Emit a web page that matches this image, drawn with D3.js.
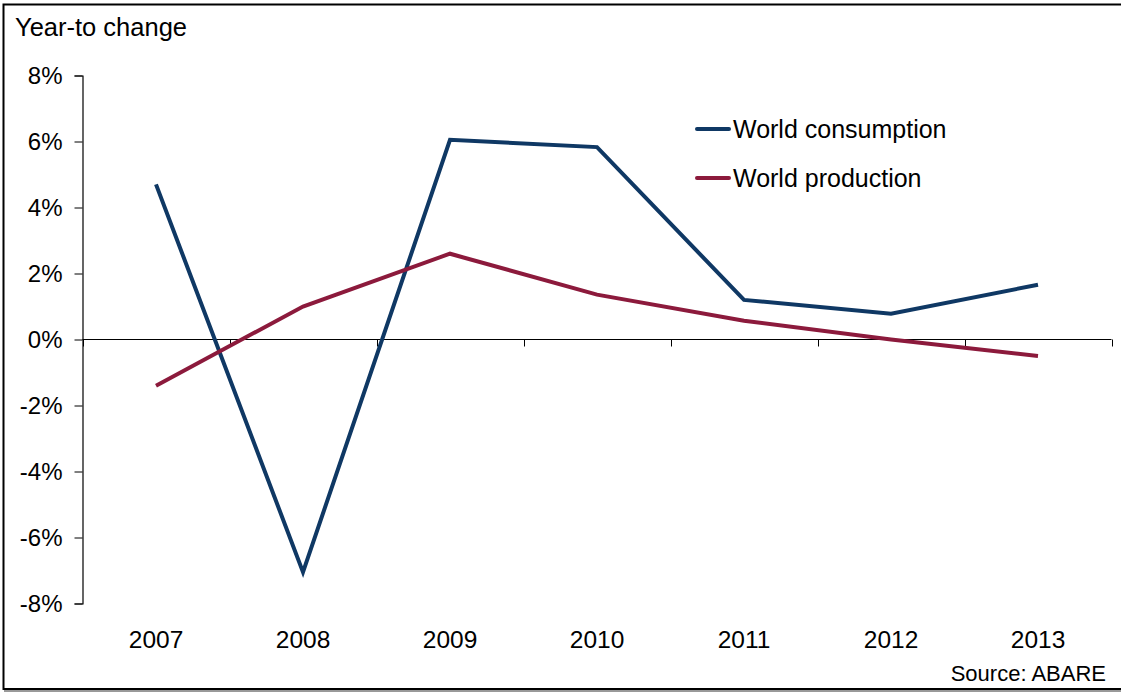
<!DOCTYPE html>
<html><head><meta charset="utf-8">
<script src="https://cdn.jsdelivr.net/npm/d3@7"></script>
<style>html,body{margin:0;padding:0;background:#fff;}svg{display:block;font-family:"Liberation Sans",Arial,sans-serif;}</style>
</head><body>
<svg id="c" width="1121" height="692"></svg>
<script>
const years = ["2007","2008","2009","2010","2011","2012","2013"];
const consumption = [4.7, -7.05, 6.05, 5.83, 1.2, 0.78, 1.66];
const production = [-1.4, 1.0, 2.6, 1.36, 0.57, 0.0, -0.5];
const yTicks = [8, 6, 4, 2, 0, -2, -4, -6, -8];
const seriesNames = ["World consumption", "World production"];
const colors = ["#0f3864", "#8c1a3c"];

const svg = d3.select("#c");
const FONT = "Liberation Sans, Arial, sans-serif";
// frame
svg.append("rect").attr("x", 4).attr("y", 690).attr("width", 1117).attr("height", 2).attr("fill", "#999");
svg.append("rect").attr("x", 3.5).attr("y", 4.5).attr("width", 1120).attr("height", 684.5)
  .attr("fill", "none").attr("stroke", "#000").attr("stroke-width", 2);

const x = d3.scaleBand().domain(years).range([82.5, 1111.5]);
const y = d3.scaleLinear().domain([-8, 8]).range([603.5, 75.5]);

// y axis
const yAxis = d3.axisLeft(y).tickValues(yTicks).tickSize(8).tickPadding(12).tickFormat(d => d + "%");
const gy = svg.append("g").attr("transform", "translate(82.5,0)").call(yAxis);
gy.select(".domain").attr("stroke", "#000").attr("stroke-width", 1.2);
gy.selectAll(".tick line").attr("stroke", "#000");
gy.selectAll(".tick text").attr("font-size", 24).attr("fill", "#000").attr("font-family", FONT);

// x axis at zero
const xAxis = d3.axisBottom(x).tickSize(0).tickFormat(d => d);
const gx = svg.append("g").attr("transform", `translate(0,${y(0)})`).call(xAxis);
gx.select(".domain").remove();
gx.append("line").attr("x1", 82.5).attr("x2", 1111.5).attr("y1", 0).attr("y2", 0).attr("stroke", "#000").attr("stroke-width", 1);
gx.selectAll(".tick text").attr("font-size", 24.5).attr("fill", "#000")
  .attr("font-family", FONT)
  .attr("y", 0).attr("dy", 0)
  .attr("transform", `translate(0,${648 - y(0)})`);
// boundary ticks
const bounds = years.map(d => x(d)).concat([x(years[years.length - 1]) + x.bandwidth()]);
gx.selectAll(".bt").data(bounds).enter().append("line").attr("class", "bt")
  .attr("x1", d => Math.round(d) + 0.5).attr("x2", d => Math.round(d) + 0.5)
  .attr("y1", 0).attr("y2", 7).attr("stroke", "#000");

// lines
const line = d3.line().x((d, i) => x(years[i]) + x.bandwidth() / 2).y(d => y(d));
[consumption, production].forEach((s, i) => {
  svg.append("path").datum(s).attr("d", line).attr("fill", "none")
    .attr("stroke", colors[i]).attr("stroke-width", 4).attr("stroke-linejoin", "miter").attr("stroke-linecap", "butt");
});

// legend
seriesNames.forEach((n, i) => {
  const ly = 129 + i * 49;
  svg.append("line").attr("x1", 697).attr("x2", 729).attr("y1", ly).attr("y2", ly)
    .attr("stroke", colors[i]).attr("stroke-width", 4).attr("stroke-linecap", "round");
  svg.append("text").attr("x", 733).attr("y", ly + 8.5).attr("font-size", 25).attr("fill", "#000").attr("font-family", FONT).text(n);
});

// titles
svg.append("text").attr("x", 15).attr("y", 36).attr("font-size", 25.5).attr("fill", "#000").attr("font-family", FONT).text("Year-to change");
svg.append("text").attr("x", 1106).attr("y", 681).attr("text-anchor", "end").attr("font-size", 22).attr("fill", "#000").attr("font-family", FONT).text("Source: ABARE");
</script>
</body></html>
